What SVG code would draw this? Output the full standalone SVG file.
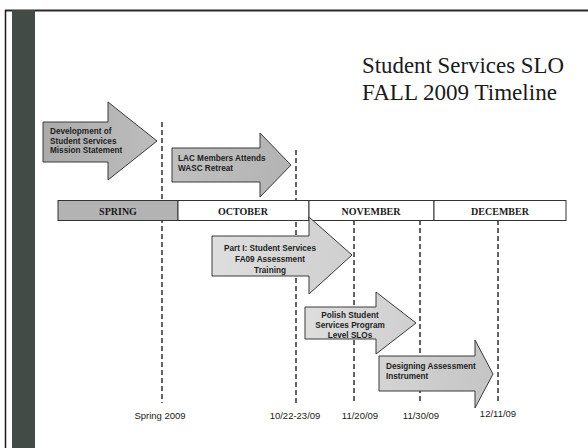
<svg xmlns="http://www.w3.org/2000/svg" width="588" height="448" viewBox="0 0 588 448">
<defs>
<style>
.title{font-family:"Liberation Serif","DejaVu Serif",serif;font-size:23px;fill:#1a1a1a}
.atext{font-family:"Liberation Sans",Arial,sans-serif;font-size:8.2px;font-weight:bold;fill:#1e1e1e}
.mon{font-family:"Liberation Serif","DejaVu Serif",serif;font-size:10px;font-weight:bold;fill:#1a1a1a;text-anchor:middle}
.date{font-family:"Liberation Sans",Arial,sans-serif;font-size:9.5px;fill:#1a1a1a;text-anchor:middle}
.arrow{stroke:#3a3a3a;stroke-width:1}
.dash{stroke:#111;stroke-width:1.3;stroke-dasharray:5 3;fill:none}
.seg{stroke:#333;stroke-width:1}
</style>
<linearGradient id="g1" x1="0" y1="0" x2="1" y2="0"><stop offset="0" stop-color="#ababab"/><stop offset="1" stop-color="#bdbdbd"/></linearGradient>
<linearGradient id="g2" x1="0" y1="0" x2="1" y2="0"><stop offset="0" stop-color="#c0c0c0"/><stop offset="1" stop-color="#b3b3b3"/></linearGradient>
<linearGradient id="g3" x1="0" y1="0" x2="1" y2="0"><stop offset="0" stop-color="#dedede"/><stop offset="1" stop-color="#cfcfcf"/></linearGradient>
<linearGradient id="g5" x1="0" y1="0" x2="1" y2="0"><stop offset="0" stop-color="#d4d4d4"/><stop offset="1" stop-color="#c4c4c4"/></linearGradient>
</defs>
<rect width="588" height="448" fill="#ffffff"/>
<g id="frame">
<line x1="5" y1="10.5" x2="588" y2="10.5" stroke="#2a2a2a" stroke-width="2"/>
<line x1="5.5" y1="10" x2="5.5" y2="448" stroke="#1a1a1a" stroke-width="1.5"/>
<rect x="12" y="10" width="23" height="438" fill="#434b47"/>
</g>
<g id="title">
<text class="title" x="362" y="73" textLength="202" lengthAdjust="spacingAndGlyphs">Student Services SLO</text>
<text class="title" x="362" y="100" textLength="195" lengthAdjust="spacingAndGlyphs">FALL 2009 Timeline</text>
</g>
<g id="connectors">
<line class="dash" x1="162" y1="122" x2="162" y2="403"/>
<line class="dash" x1="296" y1="150" x2="296" y2="403"/>
<line class="dash" x1="354" y1="220" x2="354" y2="404"/>
<line class="dash" x1="420" y1="220" x2="420" y2="404"/>
<line class="dash" x1="498" y1="220" x2="498" y2="404"/>
</g>
<g id="timeline-bar">
<rect class="seg" x="58" y="200.5" width="120" height="20" fill="#b3b3b3"/>
<rect class="seg" x="178" y="200.5" width="131" height="20" fill="#ffffff"/>
<rect class="seg" x="309" y="200.5" width="125" height="20" fill="#ffffff"/>
<rect class="seg" x="434" y="200.5" width="132" height="20" fill="#ffffff"/>
<text class="mon" x="118" y="214.5">SPRING</text>
<text class="mon" x="243" y="214.5">OCTOBER</text>
<text class="mon" x="371" y="214.5">NOVEMBER</text>
<text class="mon" x="500" y="214.5">DECEMBER</text>
</g>
<g id="arrow-mission">
<polygon class="arrow" fill="url(#g1)" points="43,122 108,122 108,102 157,141 108,180 108,162 43,162"/>
<text class="atext" x="50" y="134">Development of</text>
<text class="atext" x="50" y="144">Student Services</text>
<text class="atext" x="50" y="153">Mission Statement</text>
</g>
<g id="arrow-wasc">
<polygon class="arrow" fill="url(#g2)" points="172,148 260,148 260,133 291,165 260,197 260,182 172,182"/>
<text class="atext" x="178" y="161">LAC Members Attends</text>
<text class="atext" x="178" y="170.5">WASC Retreat</text>
</g>
<g id="arrow-training">
<polygon class="arrow" fill="url(#g3)" points="212,236 309,236 309,217 352,255 309,294 309,276 212,276"/>
<text class="atext" x="270" y="251" text-anchor="middle">Part I: Student Services</text>
<text class="atext" x="270" y="262" text-anchor="middle">FA09 Assessment</text>
<text class="atext" x="270" y="272.5" text-anchor="middle">Training</text>
</g>
<g id="arrow-polish">
<polygon class="arrow" fill="url(#g3)" points="305,307 376,307 376,292 416,323 376,354 376,339 305,339"/>
<text class="atext" x="350" y="318" text-anchor="middle">Polish Student</text>
<text class="atext" x="350" y="328" text-anchor="middle">Services Program</text>
<text class="atext" x="350" y="338" text-anchor="middle">Level SLOs</text>
</g>
<g id="arrow-designing">
<polygon class="arrow" fill="url(#g5)" points="379,356 475,356 475,340 493,374 475,408 475,391 379,391"/>
<text class="atext" x="386" y="369">Designing Assessment</text>
<text class="atext" x="386" y="379">Instrument</text>
</g>
<g id="date-labels">
<text class="date" x="160" y="419">Spring 2009</text>
<text class="date" x="295" y="419">10/22-23/09</text>
<text class="date" x="360" y="419">11/20/09</text>
<text class="date" x="421" y="419">11/30/09</text>
<text class="date" x="498" y="417">12/11/09</text>
</g>
</svg>
